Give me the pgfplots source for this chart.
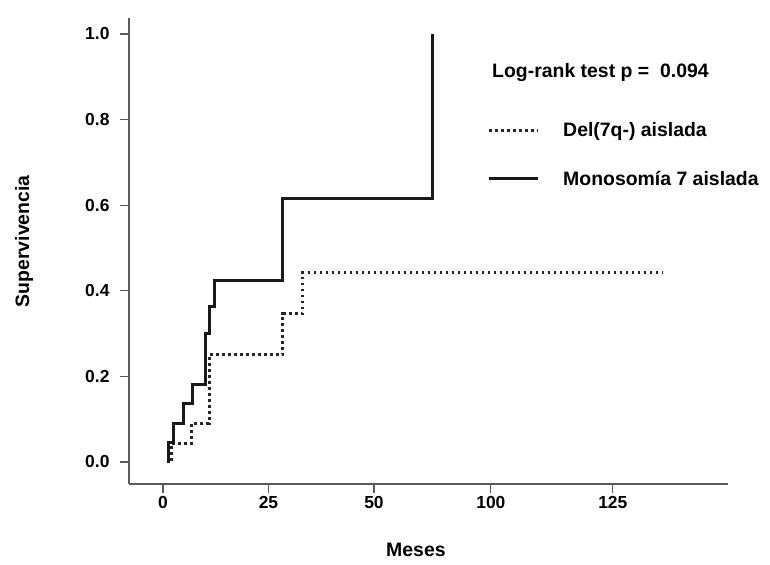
\documentclass[border=0pt]{standalone}
\usepackage{pgfplots}
\pgfplotsset{compat=1.18}
\usepackage{fontspec}
\setmainfont{Liberation Sans}
\begin{document}
\begin{tikzpicture}[x=1bp,y=1bp]
\path[use as bounding box] (0,0) rectangle (770,565);
\begin{axis}[
  at={(129bp,81bp)}, anchor=south west,
  scale only axis, width=599bp, height=466bp,
  xmin=-8.06, xmax=133.9, ymin=-0.0514, ymax=1.0374,
  axis x line*=bottom, axis y line*=left,
  axis line style={black!65, line width=1.3bp},
  tick style={black!65, line width=1.1bp},
  tick align=outside, major tick length=9bp,
  xtick={0,25,50,77.7,106.6}, xticklabels={0,25,50,100,125},
  ytick={0,0.2,0.4,0.6,0.8,1.0},
  yticklabel style={/pgf/number format/fixed, /pgf/number format/fixed zerofill, /pgf/number format/precision=1, xshift=-7bp},
  ticklabel style={font=\fontsize{17.5}{20}\selectfont\bfseries},
  /pgf/number format/assume math mode=true,
  xlabel={Meses}, ylabel={Supervivencia},
  xlabel style={at={(axis description cs:0.479,-0.1416)}, anchor=center, font=\fontsize{19.5}{22}\selectfont\bfseries},
  ylabel style={at={(axis description cs:-0.1753,0.521)}, anchor=center, font=\fontsize{19.5}{22}\selectfont\bfseries},
  legend style={at={(axis description cs:0.5977,0.7807)}, anchor=north west, draw=none, fill=none,
    font=\fontsize{19.5}{22}\selectfont\bfseries, row sep=29bp, column sep=22bp, inner sep=0pt},
  legend cell align=left,
  legend image code/.code={\draw[#1] (0bp,0bp) -- (49bp,0bp);},
]
\addplot[const plot, line width=3bp, black!85, dash pattern=on 2.8bp off 3.2bp] coordinates {
  (0.9,0.0) (2.1,0.044) (6.8,0.090) (10.9,0.25) (28.4,0.346) (33.0,0.442) (118.2,0.442)
};
\addlegendentry{Del(7q-) aislada}
\addplot[const plot, line width=3bp, black!90] coordinates {
  (0.9,0.0) (1.3,0.045) (2.6,0.091) (4.8,0.136) (6.9,0.182) (10.1,0.30) (11.1,0.364) (12.3,0.425) (28.3,0.616) (63.8,1.0)
};
\addlegendentry{Monosomía 7 aislada}
\node[anchor=west, inner sep=0pt, font=\fontsize{19.5}{22}\selectfont\bfseries] at (axis description cs:0.606,0.884) {Log-rank test p = \ 0.094};
\end{axis}
\end{tikzpicture}
\end{document}
